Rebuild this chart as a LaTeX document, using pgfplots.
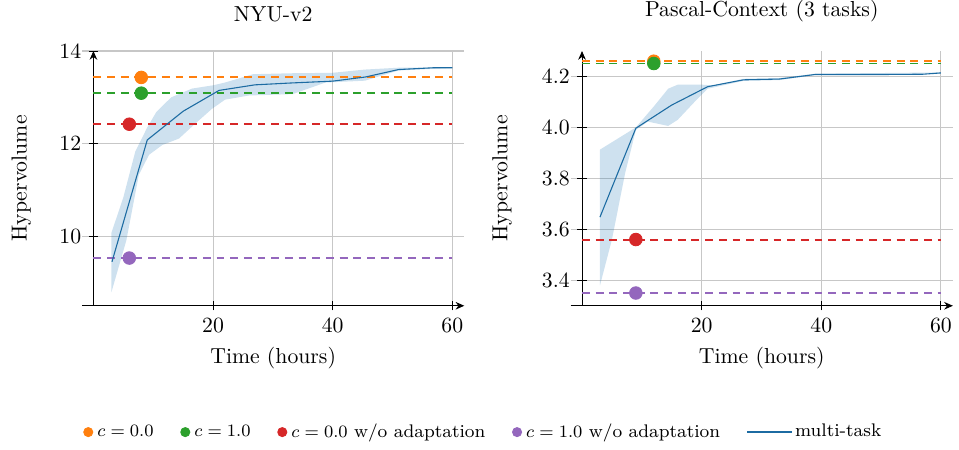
\documentclass[border=0pt]{standalone}
\usepackage{pgfplots}
\pgfplotsset{compat=1.18}
\usetikzlibrary{arrows.meta}
\definecolor{tabblue}{HTML}{1F77B4}
\definecolor{taborange}{HTML}{FF7F0E}
\definecolor{tabgreen}{HTML}{2CA02C}
\definecolor{tabred}{HTML}{D62728}
\definecolor{tabpurple}{HTML}{9467BD}
\colorlet{meanblue}{tabblue!90!black}
\pgfplotsset{
  myaxis/.style={
    scale only axis,
    width=176pt, height=117.3pt,
    axis lines=middle,
    axis line style={-{Stealth[length=4pt,width=3.5pt]}},
    grid=major,
    grid style={black!22, line width=0.5pt},
    tick style={black, line width=0.4pt},
    xtick={20,40,60},
    xlabel={Time (hours)},
    ylabel={Hypervolume},
    xlabel style={at={(axis description cs:0.5,0)}, anchor=north, yshift=-15.5pt},
    title style={at={(axis description cs:0.5,1)}, anchor=south, inner sep=0pt, yshift=7.3pt},
    clip=false,
  },
  band/.style={fill=tabblue, fill opacity=0.22, draw=none, forget plot},
  hline/.style={dashed, line width=0.9pt, forget plot, dash pattern=on 3.6pt off 2.7pt},
  mean/.style={meanblue, line width=0.5pt, forget plot},
  dot/.style={only marks, mark=*, mark size=2.9pt, forget plot},
  legdot/.style={only marks, mark=*, mark size=2.1pt, legend image code/.code={\path[draw=none,fill=none] (0pt,0pt) -- (2.2pt,0pt); \draw[##1] plot coordinates {(0pt,0pt)};}},
  legline/.style={legend image code/.code={\path[use as bounding box, draw=none] (0pt,0pt) -- (20pt,0pt); \draw[##1] (0pt,0pt) -- (20.5pt,0pt);}},
}
\begin{document}
\begin{tikzpicture}
% ---------------- NYU-v2 ----------------
\begin{axis}[myaxis, at={(0pt,0pt)}, anchor=south west,
  title={NYU-v2},
  xmin=-1.9, xmax=62, ymin=8.5, ymax=14,
  ytick={10,12,14},
  ylabel style={at={([xshift=-18pt]axis description cs:0,0.5)}, rotate=90, anchor=south, inner ysep=5.3pt},
]
\addplot[band] coordinates {
 (3,10.07) (5,10.84) (7,11.83) (9,12.35) (10.5,12.68) (13,13.0) (16.5,13.19) (20,13.26) (22,13.32) (26.7,13.50) (33,13.52) (40,13.53) (45.4,13.60) (51,13.64) (60,13.645)
 (60,13.635) (51,13.58) (45.4,13.36) (38.8,13.32) (33.3,13.07) (26,13.04) (22,12.95) (19.8,12.75) (17,12.43) (14.3,12.11) (11.5,11.97) (9.3,11.76) (7.6,11.33) (5.5,9.91) (3,8.79)
} -- cycle;
\addplot[hline, taborange] coordinates {(0,13.43) (60,13.43)};
\addplot[hline, tabgreen] coordinates {(0,13.09) (60,13.09)};
\addplot[hline, tabred] coordinates {(0,12.42) (60,12.42)};
\addplot[hline, tabpurple] coordinates {(0,9.53) (60,9.53)};
\addplot[mean] coordinates {
 (3.1,9.45) (9,12.08) (15,12.70) (21,13.15) (27,13.27) (33,13.31) (40,13.35) (45.5,13.44) (51,13.60) (57,13.64) (60,13.64)
};
\addplot[dot, taborange] coordinates {(8,13.43)};
\addplot[dot, tabgreen] coordinates {(8,13.09)};
\addplot[dot, tabred] coordinates {(6,12.42)};
\addplot[dot, tabpurple] coordinates {(6,9.53)};
\end{axis}
% ---------------- Pascal-Context ----------------
\begin{axis}[myaxis, at={(225pt,0pt)}, anchor=south west,
  title={Pascal-Context (3 tasks)},
  xmin=-1.9, xmax=62, ymin=3.3, ymax=4.3,
  ytick={3.4,3.6,3.8,4.0,4.2},
  yticklabel style={/pgf/number format/.cd, fixed, fixed zerofill, precision=1},
  ylabel style={at={([xshift=-23.6pt]axis description cs:0,0.5)}, rotate=90, anchor=south},
  legend style={at={(axis description cs:-0.225,-0.496)}, anchor=center, draw=none, fill=none,
    font=\fontsize{8.4}{10}\selectfont, legend columns=-1,
    /tikz/every odd column/.append style={column sep=0pt},
    /tikz/every even column/.append style={column sep=10.5pt}},
]
\addplot[band] coordinates {
 (3,3.913) (9,4.0) (12.2,4.088) (14.4,4.152) (16,4.168) (20,4.168) (22,4.165) (27,4.191) (33,4.194) (39,4.211) (60,4.216)
 (60,4.212) (39,4.206) (33,4.186) (27,4.183) (21,4.152) (18.8,4.10) (16,4.03) (14.4,4.006) (11,4.023) (9,3.99) (7.2,3.82) (5,3.56) (3,3.38)
} -- cycle;
\addplot[hline, taborange] coordinates {(0,4.26) (60,4.26)};
\addplot[hline, tabgreen] coordinates {(0,4.251) (60,4.251)};
\addplot[hline, tabred] coordinates {(0,3.56) (60,3.56)};
\addplot[hline, tabpurple] coordinates {(0,3.35) (60,3.35)};
\addplot[mean] coordinates {
 (3,3.648) (9,3.997) (15,4.088) (21,4.160) (27,4.187) (33,4.190) (39,4.208) (45,4.208) (51,4.208) (57,4.209) (60,4.214)
};
\addplot[dot, taborange] coordinates {(12,4.26)};
\addplot[dot, tabgreen] coordinates {(12,4.251)};
\addplot[dot, tabred] coordinates {(9,3.56)};
\addplot[dot, tabpurple] coordinates {(9,3.35)};
\addlegendimage{legdot, taborange}
\addlegendentry{$c=0.0$}
\addlegendimage{legdot, tabgreen}
\addlegendentry{$c=1.0$}
\addlegendimage{legdot, tabred}
\addlegendentry{$c=0.0$ w/o adaptation}
\addlegendimage{legdot, tabpurple}
\addlegendentry{$c=1.0$ w/o adaptation}
\addlegendimage{legline, draw=meanblue, line width=0.6pt}
\addlegendentry{multi-task}
\end{axis}
\end{tikzpicture}
\end{document}
